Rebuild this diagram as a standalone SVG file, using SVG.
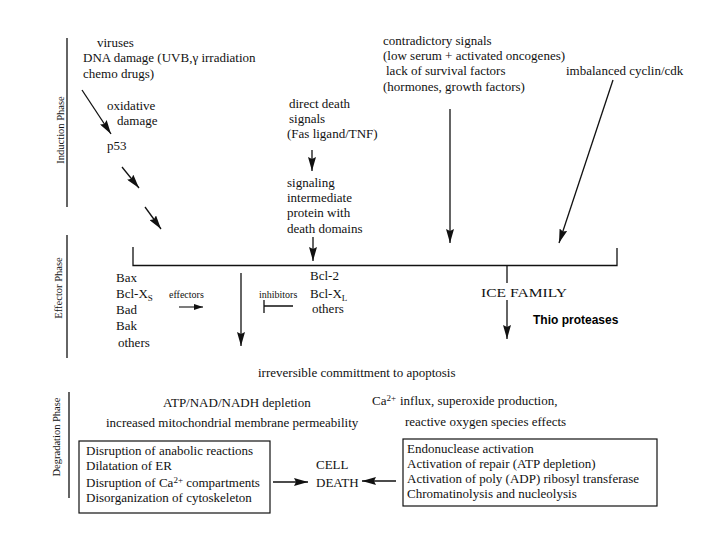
<svg xmlns="http://www.w3.org/2000/svg" width="720" height="540" viewBox="0 0 720 540">
<style>
text{font-family:"Liberation Serif","Times New Roman",serif;font-size:13px;fill:#111}
.ph{font-size:10.5px}
.sm{font-size:10px}
.sub{font-size:9px}
.b{font-family:"Liberation Sans",Arial,sans-serif;font-weight:bold;font-size:12px;fill:#000}
.ln{stroke:#111;stroke-width:1.3;fill:none}
.ar{stroke:#111;stroke-width:1.3;fill:none;marker-end:url(#ah)}
.as{stroke:#111;stroke-width:1.1;fill:none;marker-end:url(#as)}
.box{fill:#fff;stroke:#111;stroke-width:1.2}
</style>
<defs>
<marker id="ah" markerUnits="userSpaceOnUse" markerWidth="15" markerHeight="8" refX="14" refY="4" orient="auto"><path d="M0,0 L14,4 L0,8 L2,4 z" fill="#111"/></marker>
<marker id="as" markerUnits="userSpaceOnUse" markerWidth="10" markerHeight="6" refX="9" refY="3" orient="auto"><path d="M0,0 L9,3 L0,6 z" fill="#111"/></marker>
</defs>
<rect width="720" height="540" fill="#fff"/>

<g id="phases">
<line class="ln" x1="67" y1="38" x2="67" y2="207"/>
<text class="ph" text-anchor="middle" transform="translate(64,130) rotate(-90)">Induction Phase</text>
<line class="ln" x1="67" y1="235" x2="67" y2="358"/>
<text class="ph" text-anchor="middle" transform="translate(62,288) rotate(-90)">Effector Phase</text>
<line class="ln" x1="69" y1="392" x2="69" y2="498"/>
<text class="ph" text-anchor="middle" transform="translate(60,437) rotate(-90)">Degradation Phase</text>
</g>

<g id="n-dna">
<text x="97" y="47">viruses</text>
<text x="83" y="62">DNA damage (UVB,γ irradiation</text>
<text x="83" y="78">chemo drugs)</text>
</g>
<g id="n-oxidative">
<text x="107" y="110">oxidative</text>
<text x="117" y="125">damage</text>
</g>
<g id="n-p53"><text x="107" y="150">p53</text></g>

<g id="n-contradictory">
<text x="383" y="45">contradictory signals</text>
<text x="383" y="60">(low serum + activated oncogenes)</text>
<text x="386" y="75">lack of survival factors</text>
<text x="383" y="91">(hormones, growth factors)</text>
</g>
<g id="n-cyclin"><text x="566" y="75">imbalanced cyclin/cdk</text></g>

<g id="n-direct">
<text x="289" y="108">direct death</text>
<text x="289" y="123">signals</text>
<text x="287" y="138">(Fas ligand/TNF)</text>
</g>
<g id="n-signaling">
<text x="287" y="187">signaling</text>
<text x="287" y="202">intermediate</text>
<text x="287" y="217">protein with</text>
<text x="287" y="233">death domains</text>
</g>

<g id="n-effectors">
<text x="116" y="282">Bax</text>
<text x="116" y="298">Bcl-X<tspan class="sub" dy="3">S</tspan></text>
<text x="116" y="314">Bad</text>
<text x="116" y="330">Bak</text>
<text x="118" y="347">others</text>
<text class="sm" x="169" y="298">effectors</text>
</g>
<g id="n-inhibitors">
<text class="sm" x="259" y="298">inhibitors</text>
<text x="310" y="280">Bcl-2</text>
<text x="310" y="298">Bcl-X<tspan class="sub" dy="3">L</tspan></text>
<text x="312" y="313">others</text>
</g>
<g id="n-ice">
<text x="481" y="297" font-size="16.5" textLength="86" lengthAdjust="spacingAndGlyphs">ICE FAMILY</text>
<text class="b" x="533" y="324">Thio proteases</text>
</g>
<g id="n-commit"><text x="258" y="377">irreversible committment to apoptosis</text></g>

<g id="n-atp">
<text x="163" y="407">ATP/NAD/NADH depletion</text>
<text x="106" y="427">increased mitochondrial membrane permeability</text>
</g>
<g id="n-ca">
<text x="372" y="405"><tspan>Ca</tspan><tspan class="sub" dy="-4">2+</tspan><tspan dy="4" x="400">influx, superoxide production,</tspan></text>
<text x="405" y="426">reactive oxygen species effects</text>
</g>
<g id="n-leftbox">
<rect class="box" x="79" y="441" width="191" height="72"/>
<text x="86" y="455">Disruption of anabolic reactions</text>
<text x="86" y="470">Dilatation of ER</text>
<text x="86" y="487">Disruption of Ca<tspan class="sub" dy="-4">2+</tspan><tspan dy="4"> compartments</tspan></text>
<text x="86" y="502">Disorganization of cytoskeleton</text>
</g>
<g id="n-celldeath">
<text x="316" y="469">CELL</text>
<text x="316" y="487">DEATH</text>
</g>
<g id="n-rightbox">
<rect class="box" x="403" y="439" width="254" height="67"/>
<text x="407" y="453">Endonuclease activation</text>
<text x="407" y="468">Activation of repair (ATP depletion)</text>
<text x="407" y="483">Activation of poly (ADP) ribosyl transferase</text>
<text x="407" y="498">Chromatinolysis and nucleolysis</text>
</g>

<g id="connectors">
<line class="ar" x1="82" y1="90" x2="111" y2="134"/>
<line class="ar" x1="122" y1="167" x2="139" y2="188"/>
<line class="ar" x1="145" y1="207" x2="161" y2="229"/>
<line class="ar" x1="312" y1="150" x2="312" y2="171"/>
<line class="ar" x1="313" y1="237" x2="313" y2="261"/>
<line class="ar" x1="450" y1="109" x2="450" y2="243"/>
<line class="ar" x1="613" y1="80" x2="559" y2="243"/>
<path class="ln" d="M133,247 V265.5 H617 V248"/>
<line class="ln" x1="507" y1="265" x2="507" y2="283"/>
<line class="ar" x1="507" y1="300" x2="507" y2="339"/>
<line class="ar" x1="241" y1="273" x2="241" y2="346"/>
<line class="as" x1="179" y1="307" x2="203" y2="307"/>
<path class="ln" d="M293,306 H264 M264,300 V313" stroke-width="1"/>
<line class="ar" x1="273" y1="482" x2="308" y2="482"/>
<line class="ar" x1="396" y1="481" x2="362" y2="481"/>
</g>
</svg>
